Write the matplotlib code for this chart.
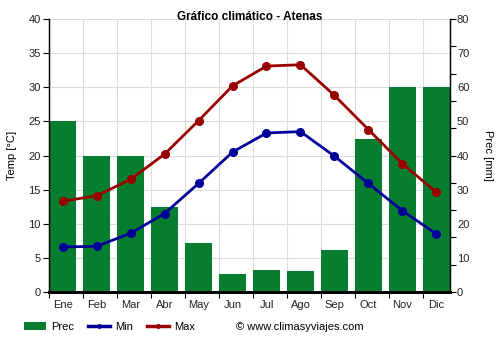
import matplotlib
matplotlib.use('Agg')
import matplotlib.pyplot as plt
import numpy as np
from matplotlib.lines import Line2D
from matplotlib.patches import Patch
from matplotlib.ticker import MultipleLocator, FixedLocator

plt.rcParams['font.family'] = ['Liberation Sans', 'DejaVu Sans']
plt.rcParams['font.size'] = 8

months = ['Ene', 'Feb', 'Mar', 'Abr', 'May', 'Jun', 'Jul', 'Ago', 'Sep', 'Oct', 'Nov', 'Dic']
prec = [50, 40, 40, 25, 14.5, 5.3, 6.4, 6.2, 12.3, 44.8, 60, 60]
temp_min = [6.6, 6.7, 8.6, 11.5, 15.9, 20.5, 23.3, 23.5, 19.9, 15.9, 11.9, 8.5]
temp_max = [13.3, 14.1, 16.5, 20.2, 25.1, 30.2, 33.1, 33.3, 28.8, 23.8, 18.8, 14.6]

green = '#077d30'
blue = '#000099'
red = '#990000'
grid_color = '#dcdcdc'

fig = plt.figure(figsize=(5, 3.5), dpi=100)
# primary axes holds the precipitation bars (right scale) and the grid
ax = fig.add_axes([0.098, 0.1657, 0.802, 0.78])
ax2 = ax.twinx()

x = np.arange(len(months))
ax.bar(x, prec, width=0.8, color=green, zorder=2)
ax.set_xlim(-0.4, 11.4)
ax.set_ylim(0, 80)
ax.set_axisbelow(True)

# right axis: labels every 10, tick marks every 8
ax.yaxis.tick_right()
ax.yaxis.set_major_locator(MultipleLocator(10))
ax.yaxis.set_minor_locator(MultipleLocator(8))
ax.yaxis.remove_overlapping_locs = False
ax.tick_params(axis='y', which='major', length=0, pad=5, labelcolor='#222222')
ax.tick_params(axis='y', which='minor', length=4, width=0.8, color='black')
ax.grid(axis='y', which='major', color=grid_color, linewidth=0.8)

# x axis: labels on months, ticks and grid at bar edges
ax.set_xticks(x)
ax.set_xticklabels(months)
ax.xaxis.set_minor_locator(FixedLocator(x - 0.4))
ax.tick_params(axis='x', which='major', length=0, pad=6, labelcolor='#222222')
ax.tick_params(axis='x', which='minor', length=4, width=0.8, color='black')
ax.grid(axis='x', which='minor', color=grid_color, linewidth=0.8)

# temperature lines on the left scale
ax2.plot(x, temp_min, color=blue, linewidth=2, marker='o', markersize=5.5, zorder=3)
ax2.plot(x, temp_max, color=red, linewidth=2, marker='o', markersize=5.5, zorder=3)
ax2.set_ylim(0, 40)
ax2.yaxis.tick_left()
ax2.yaxis.set_major_locator(MultipleLocator(5))
ax2.tick_params(axis='y', length=4, width=0.8, pad=2, labelcolor='#222222')

for a in (ax, ax2):
    a.spines['top'].set_visible(False)
    a.spines['left'].set_linewidth(0.9)
    a.spines['right'].set_linewidth(0.9)
    a.spines['bottom'].set_linewidth(2)

fig.text(0.5, 0.951, 'Gráfico climático - Atenas', ha='center', va='center',
         fontsize=8.5, fontweight='bold')
fig.text(0.024, 0.557, 'Temp [°C]', rotation=90, ha='center', va='center')
fig.text(0.976, 0.557, 'Prec [mm]', rotation=270, ha='center', va='center')

handles = [
    Patch(facecolor=green, edgecolor='none', label='Prec'),
    Line2D([0], [0], color=blue, linewidth=2.5, marker='o', markersize=2.5, label='Min'),
    Line2D([0], [0], color=red, linewidth=2.5, marker='o', markersize=2.5, label='Max'),
]
fig.legend(handles=handles, loc='center left', bbox_to_anchor=(0.048, 0.066), ncol=3,
           frameon=False, borderpad=0, borderaxespad=0, handlelength=2.0, handleheight=0.8,
           handletextpad=0.45, columnspacing=1.25, fontsize=8)
fig.text(0.472, 0.066, '© www.climasyviajes.com', ha='left', va='center', fontsize=8)

fig.savefig('out.png', dpi=100)
